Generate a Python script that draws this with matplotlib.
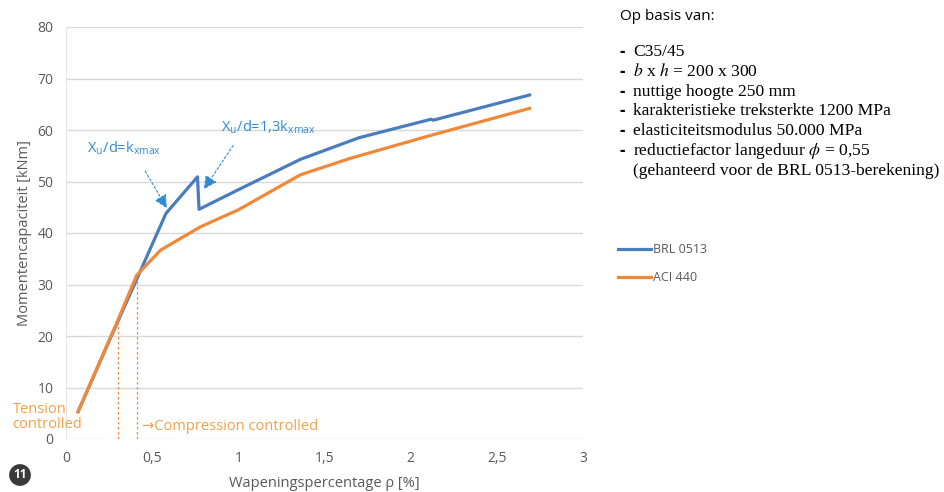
import matplotlib
matplotlib.use("Agg")
import matplotlib.pyplot as plt

# Data
brl_x = [0.07, 0.25, 0.41, 0.58, 0.763, 0.772, 1.0, 1.36, 1.7, 2.12, 2.13, 2.69]
brl_y = [5.3, 19.0, 31.0, 43.8, 50.9, 44.6, 48.4, 54.3, 58.5, 62.1, 61.9, 66.8]
aci_x = [0.07, 0.30, 0.41, 0.55, 0.78, 1.0, 1.36, 1.65, 2.1, 2.69]
aci_y = [5.3, 23.0, 31.8, 36.7, 41.2, 44.5, 51.3, 54.5, 58.8, 64.2]
xticks = [0, 0.5, 1, 1.5, 2, 2.5, 3]
xticklabels = ["0", "0,5", "1", "1,5", "2", "2,5", "3"]
yticks = [0, 10, 20, 30, 40, 50, 60, 70, 80]
limit_x = [0.30, 0.41]
limit_y = [23.0, 31.8]

blue = "#4a7dbd"
orange = "#f0883a"
annot_blue = "#2e8bd6"
annot_orange = "#f4a04a"
grey = "#595959"

plt.rcParams['font.family'] = ['Open Sans', 'DejaVu Sans']
plt.rcParams['mathtext.fontset'] = 'stix'

fig = plt.figure(figsize=(9.45, 4.92), dpi=100)
ax = fig.add_axes([66/945, 1-439/492, (583-66)/945, (439-27)/492])

ax.plot(brl_x, brl_y, color=blue, lw=2.3, label="BRL 0513", zorder=3)
ax.plot(aci_x, aci_y, color=orange, lw=2.3, label="ACI 440", zorder=4)
for lx, ly in zip(limit_x, limit_y):
    ax.plot([lx, lx], [0, ly], color=orange, lw=0.9, ls=(0, (2, 2)), zorder=2)

ax.set_xlim(0, 3)
ax.set_ylim(0, 80)
ax.set_xticks(xticks)
ax.set_xticklabels(xticklabels)
ax.set_yticks(yticks)
ax.tick_params(length=0, labelsize=10, colors=grey, pad=9)
ax.grid(axis='y', color="#d9d9d9", lw=1)
ax.set_axisbelow(True)
for s in ["top", "right", "bottom"]:
    ax.spines[s].set_visible(False)
ax.spines["left"].set_color("#e6e6e6")

ax.set_ylabel("Momentencapaciteit [kNm]", fontsize=10.5, color=grey, labelpad=4)
ax.set_xlabel("Wapeningspercentage ρ [%]", fontsize=10.5, color=grey, labelpad=7)

# annotations
arrow_kw = dict(arrowstyle="-|>", color=annot_blue, lw=0.8, ls=(0, (2, 2)),
                mutation_scale=20, shrinkA=0, shrinkB=0)
ax.annotate("", xy=(0.585, 44.8), xytext=(0.46, 52.0), arrowprops=arrow_kw)
ax.annotate("", xy=(0.80, 48.5), xytext=(0.97, 57.0), arrowprops=arrow_kw)
ax.text(0.12, 56.4, r"X$_\mathregular{u}$/d=k$_\mathregular{xmax}$", color=annot_blue,
        fontsize=10.5, ha="left", va="center")
ax.text(0.90, 60.4, r"X$_\mathregular{u}$/d=1,3k$_\mathregular{xmax}$", color=annot_blue,
        fontsize=10.5, ha="left", va="center")
ax.text(-0.31, 4.3, "Tension\ncontrolled", color=annot_orange, fontsize=10.5,
        ha="left", va="center", linespacing=1.0, clip_on=False)
ax.text(0.44, 2.5, "\u2192Compression controlled", color=annot_orange, fontsize=10.5,
        ha="left", va="center")

# legend
fig.legend(loc="upper left", bbox_to_anchor=(607/945, 1-232/492), frameon=False,
           fontsize=9, labelcolor=grey, handlelength=2.6, handletextpad=0.2,
           labelspacing=1.2)

# circle badge
fig.text(20/945, 1-475/492, "11", ha="center", va="center", color="white", fontsize=8.5,
         fontweight="bold",
         bbox=dict(boxstyle="circle,pad=0.35", fc="#3a3a3a", ec="none"))

# right-side text
sx = 620/945
fig.text(sx, 1-16/492, "Op basis van:", fontsize=11, color="#000000", va="center",
         fontfamily="Open Sans")
lines = [
    "C35/45",
    "$b$ x $h$ = 200 x 300",
    "nuttige hoogte 250 mm",
    "karakteristieke treksterkte 1200 MPa",
    "elasticiteitsmodulus 50.000 MPa",
    "reductiefactor langeduur $\\phi$ = 0,55",
]
ys = [52, 72, 92, 111, 131, 151]
for t, yy in zip(lines, ys):
    fig.text(sx, 1-yy/492, "-", fontsize=12, va="center", fontfamily="Open Sans",
             fontweight="bold")
    fig.text(633/945, 1-yy/492, t, fontsize=12.6, va="center", fontfamily="Liberation Serif")
fig.text(633/945, 1-171/492, "(gehanteerd voor de BRL 0513-berekening)", fontsize=12.6,
         va="center", fontfamily="Liberation Serif")

fig.savefig("out.png", dpi=100)
